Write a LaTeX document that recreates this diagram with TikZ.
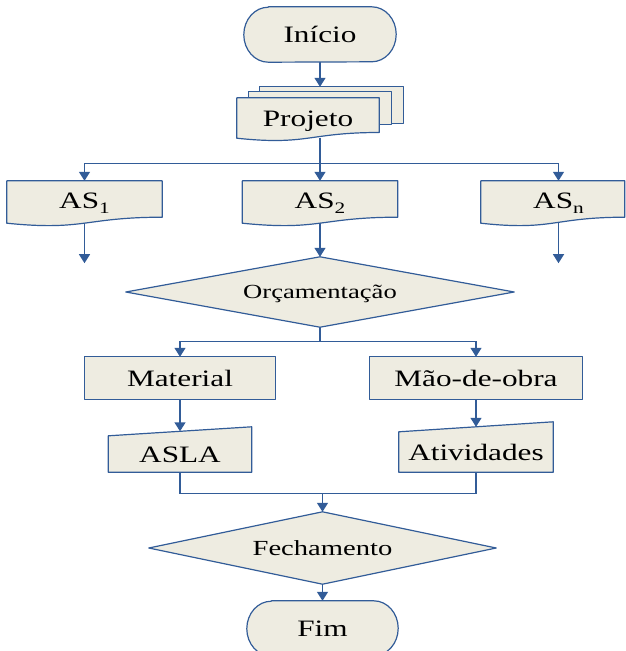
\documentclass[tikz,border=0pt]{standalone}
\usepackage{fontspec}
\setmainfont[FakeStretch=1.33]{Liberation Serif}
\usetikzlibrary{arrows.meta,calc}

\pgfdeclarelayer{wires}
\pgfdeclarelayer{frames}
\pgfsetlayers{wires,frames,main}

\definecolor{chartfill}{HTML}{EEECE1}
\definecolor{chartblue}{HTML}{325C98}

% terminal (start/end) outline around a node
\newcommand\terminalpath[1]{%
  \path[frame] ([xshift=24.5pt]#1.north west) -- ([xshift=-24.5pt]#1.north east)
    arc[start angle=90,end angle=-90,x radius=24.5pt,y radius=27.5pt]
    -- ([xshift=24.5pt]#1.south west)
    arc[start angle=270,end angle=90,x radius=24.5pt,y radius=27.5pt] -- cycle;}

% document outline (wavy bottom); optional argument trims the right side
\newcommand\docpath[2][0]{%
  \path[frame] let \p1=(#2.north west), \p2=([xshift=-#1pt]#2.south east) in
    (\x1,\y1) -- (\x2,\y1) -- (\x2,{\y1-0.8587*(\y1-\y2)})
    .. controls ({(\x1+\x2)/2},{\y1-0.8587*(\y1-\y2)})
            and ({(\x1+\x2)/2},{\y1-1.1858*(\y1-\y2)}) .. (\x1,\y2) -- cycle;}

% lowered index used in the AS labels
\newcommand\lowidx[1]{\raisebox{-5.5pt}{\fontsize{16}{16}\selectfont #1}}

\begin{document}
\begin{tikzpicture}[x=1pt,y=-1pt,
  lbl/.style={inner sep=0pt, text height=16pt, text depth=0pt,
    font=\fontsize{23.5}{26}\selectfont},
  lblidx/.style={lbl, text depth=4pt},
  lblsmall/.style={inner sep=0pt, text height=13.6pt, text depth=0pt,
    font=\fontsize{20}{22}\selectfont},
  lblmid/.style={inner sep=0pt, text height=14.6pt, text depth=0pt,
    font=\fontsize{21.5}{24}\selectfont},
  frame/.style={draw=chartblue, fill=chartfill, line width=1.2pt, line join=round},
  wire/.style={draw=chartblue, line width=1.4pt},
  flow/.style={wire, -{Triangle[width=11pt,length=9pt]}},
]
\useasboundingbox (0,0) rectangle (626,651);

% ---- nodes (text) ----
\node[lbl, minimum width=152, minimum height=55] (ini) at (320,34.5) {Início};
\node[lbl, minimum width=142, minimum height=40] (proj) at (308,118) {Projeto};
\node[lblidx, minimum width=155, minimum height=42] (as1) at (84.5,202) {AS\lowidx{1}};
\node[lblidx, minimum width=155, minimum height=42] (as2) at (320,202) {AS\lowidx{2}};
\node[lblidx, minimum width=155, minimum height=42] (asn) at (558.5,202) {AS\lowidx{n}};
\node[lblsmall, minimum width=388, minimum height=70] (orc) at (320,292) {Orçamentação};
\node[lbl, minimum width=190, minimum height=42] (mat) at (180,378) {Material};
\node[lbl, minimum width=213, minimum height=42] (mao) at (476,378) {Mão-de-obra};
\node[lbl, minimum width=143, minimum height=36] (asla) at (180,454) {ASLA};
\node[lbl, minimum width=154, minimum height=40] (ativ) at (476,452) {Atividades};
\node[lblmid, minimum width=347, minimum height=72] (fech) at (322.5,548) {Fechamento};
\node[lbl, minimum width=151, minimum height=55] (fim) at (322.5,628.5) {Fim};

% ---- outlines ----
\begin{pgfonlayer}{frames}
  \terminalpath{ini}
  % stacked sheets behind the project document
  \coordinate (projback) at ($(proj.north west)+(23,-11)$);
  \path[frame] (projback) rectangle ($(proj.north east)+(24,26)$);
  \path[frame] ($(proj.north west)+(12,-6)$) rectangle ($(proj.north east)+(12,27)$);
  \docpath{proj}
  \docpath{as1}
  \docpath{as2}
  \docpath[11.5]{asn}
  \path[frame] (orc.north) -- (orc.east) -- (orc.south) -- (orc.west) -- cycle;
  \path[frame] (mat.north west) rectangle (mat.south east);
  \path[frame] (mao.north west) rectangle (mao.south east);
  % manual input shapes
  \path[frame] (asla.south west) -- (asla.north west)
    -- coordinate (asla-in) ([yshift=9pt]asla.north east) -- (asla.south east) -- cycle;
  \path[frame] (ativ.south west) -- (ativ.north west)
    -- coordinate (ativ-in) ([yshift=10pt]ativ.north east) -- (ativ.south east) -- cycle;
  \path[frame] (fech.north) -- (fech.east) -- (fech.south) -- (fech.west) -- cycle;
  \terminalpath{fim}
\end{pgfonlayer}

% ---- connectors ----
\begin{pgfonlayer}{wires}
  \draw[flow] (ini.south) -- (ini.south |- projback);

  \coordinate (bus1) at ($(proj.south)+(12,25)$);
  \draw[wire] (proj.south -| bus1) -- (bus1);
  \draw[wire] (as1.north |- bus1) -- (asn.north |- bus1);
  \draw[flow] (as1.north |- bus1) -- (as1.north);
  \draw[flow] (as2.north |- bus1) -- (as2.north);
  \draw[flow] (asn.north |- bus1) -- (asn.north);

  \coordinate (as1out) at ($(as1.south)+(0,40)$);
  \coordinate (asnout) at ($(asn.south)+(0,40)$);
  \draw[flow] (as1.south) -- (as1out);
  \draw[flow] (asn.south) -- (asnout);
  \draw[flow] (as2.south) -- (orc.north);

  \coordinate (bus2) at ($(orc.south)+(0,14)$);
  \draw[wire] (orc.south) -- (bus2);
  \draw[wire] (mat.north |- bus2) -- (mao.north |- bus2);
  \draw[flow] (mat.north |- bus2) -- (mat.north);
  \draw[flow] (mao.north |- bus2) -- (mao.north);

  \draw[flow] (mat.south) -- (asla-in);
  \draw[flow] (mao.south) -- (ativ-in);

  \coordinate (bus3) at ($(asla.south)+(0,21)$);
  \draw[wire] (asla.south) -- (bus3) -- (bus3 -| ativ.south) -- (ativ.south);
  \draw[flow] (bus3 -| fech.north) -- (fech.north);
  \draw[flow] (fech.south) -- (fim.north);
\end{pgfonlayer}
\end{tikzpicture}
\end{document}
